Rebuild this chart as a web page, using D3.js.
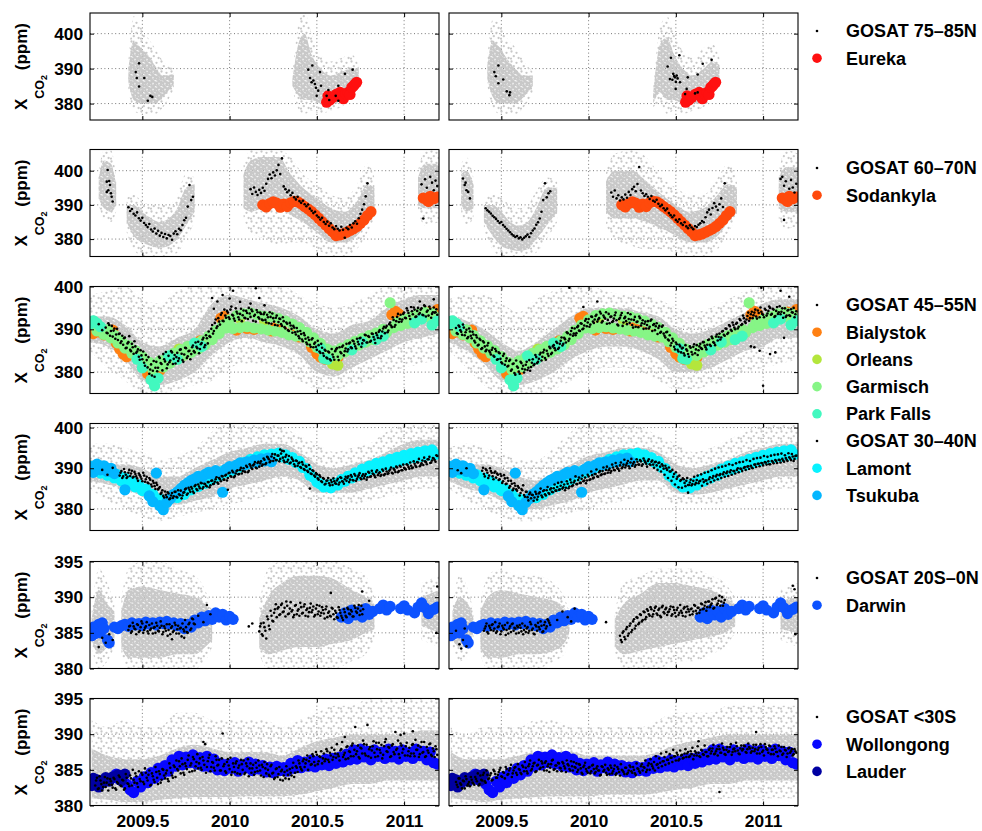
<!DOCTYPE html>
<html>
<head>
<meta charset="utf-8">
<script src="https://cdn.jsdelivr.net/npm/d3@7"></script>
<style>
  body { margin: 0; background: #fff; }
  svg text { font-family: "Liberation Sans", Arial, Helvetica, sans-serif; font-weight: bold; fill: #000; }
</style>
</head>
<body>
<svg id="chart" width="982" height="831"></svg>
<script>
// ---------------------------------------------------------------------------
// Axis values
const xDomain = [2009.2, 2011.2];
const xTicks = [2009.5, 2010, 2010.5, 2011];
const xTickLabels = ["2009.5", "2010", "2010.5", "2011"];
const yTicksNorth = [380, 390, 400];
const yTicksSouth = [380, 385, 390, 395];
const yDomains = [[375.3, 405.9], [374.9, 406.2], [375, 400], [374.7, 401], [380, 395], [380, 395]];

const GOSAT_STEP = 0.01;   // spacing of the GOSAT daily-mean runs (yr)
const SITE_STEP = 0.02;    // spacing of the regular TCCON runs (yr)

// ---------------------------------------------------------------------------
// Individual GOSAT soundings: clusters of [t, outerLo, outerHi, coreLo, coreHi]
const gray7585L = [
  [[2009.42,384,392,386,390],[2009.45,378,405,381,398],[2009.49,377,402,380,396],[2009.53,377,399,380,394],[2009.57,377,396,380,391],[2009.62,379,392,382,388],[2009.68,384,390,385.5,388.5]],
  [[2010.36,384,388,385,387],[2010.40,378,404,382,398],[2010.43,377,406,381,400],[2010.47,378,400,381,394],[2010.52,377,394,380,390],[2010.58,378,392,380,388],[2010.64,379,393,381,389],[2010.70,382,394,384,390],[2010.74,386,391,387,390]]
];
const gray7585R = [
  [[2009.42,385,393,387,391],[2009.45,379,404,382,398],[2009.49,377,403,380,396],[2009.53,377,399,380,393],[2009.58,377,396,380,390],[2009.63,379,392,382,388],[2009.68,383,389,385,388]],
  [[2010.37,379,384,380,383],[2010.41,380,402,383,397],[2010.45,377,405,381,399],[2010.49,378,400,381,394],[2010.54,377,395,380,390],[2010.60,378,393,380,388],[2010.66,379,396,381,390],[2010.71,382,397,384,392],[2010.75,386,393,387,391]]
];
const gray6070L = [
  [[2009.25,390,400,392,398],[2009.28,386,406,389,403],[2009.32,385,406,388,402],[2009.35,388,398,390,396]],
  [[2009.41,382,392,385,390],[2009.45,377,393,381,390],[2009.50,375,391,379,388],[2009.55,375,390,378,386],[2009.60,375,390,377.5,385],[2009.65,375,390,378,386],[2009.70,376,393,380,389],[2009.75,380,399,384,395],[2009.80,385,398,388,396]],
  [[2010.08,386,402,389,399],[2010.12,382,406,388,403],[2010.20,380,406,389,404],[2010.28,378,406,389,404],[2010.35,379,404,387,399],[2010.42,379,399,385,395],[2010.50,377,396,382,392],[2010.58,375,393,379,389],[2010.66,375,392,379,388],[2010.73,377,396,381,391],[2010.79,382,402,385,396],[2010.83,386,398,388,395]],
  [[2011.08,388,400,390,398],[2011.12,384,406,389,402],[2011.20,385,406,389,402]]
];
const gray6070R = [
  [[2009.27,388,402,390,399],[2009.30,384,404,388,400],[2009.34,386,398,389,396]],
  [[2009.40,382,392,385,390],[2009.45,377,393,381,390],[2009.50,375,392,378,388],[2009.55,375,390,377,385],[2009.60,375,389,376.5,384],[2009.65,375,390,377,385],[2009.70,376,394,380,389],[2009.76,380,398,384,395],[2009.82,385,397,388,395]],
  [[2010.10,384,400,388,397],[2010.15,380,405,386,400],[2010.25,378,406,386,400],[2010.33,377,404,385,397],[2010.42,377,398,383,393],[2010.50,376,395,381,390],[2010.58,375,393,379,388],[2010.66,375,393,379,389],[2010.74,377,398,381,393],[2010.80,382,402,385,396],[2010.85,386,398,388,395]],
  [[2011.09,386,400,389,398],[2011.13,383,406,388,401],[2011.20,384,405,388,401]]
];
const gray4555L = [[
  [2009.2,385,398,387,393],[2009.3,381,399,386,393],[2009.4,378,400,383,391],[2009.5,375,397,378,387],[2009.6,375,396,377,386],[2009.7,376,399,378,388],[2009.8,377,400,380,390],[2009.9,378,400,384,396],[2010.0,381,400,387,398],[2010.1,382,400,388,397],[2010.2,382,400,387,396],[2010.3,380,400,386,395],[2010.4,378,398,384,393],[2010.5,376,396,380,390],[2010.6,376,395,379,389],[2010.7,377,396,381,391],[2010.8,378,398,383,392],[2010.9,380,400,385,395],[2011.0,381,400,387,397],[2011.1,382,400,388,398],[2011.2,383,400,389,398]
]];
const gray4555R = [[
  [2009.2,385,397,387,393],[2009.3,381,398,385,392],[2009.4,377,398,382,390],[2009.5,375,396,378,387],[2009.6,375,394,377,385],[2009.7,375,397,378,387],[2009.8,376,399,380,390],[2009.9,378,400,383,393],[2010.0,380,400,385,395],[2010.1,381,399,386,395],[2010.2,381,398,386,395],[2010.3,380,398,385,394],[2010.4,378,397,383,393],[2010.5,376,395,380,390],[2010.6,376,394,380,389],[2010.7,377,395,381,390],[2010.8,378,397,383,392],[2010.9,380,399,385,394],[2011.0,381,400,386,396],[2011.1,382,400,388,397],[2011.2,383,400,388,397]
]];
const gray3040L = [[
  [2009.2,385,396,387,392],[2009.3,382,396,386,391],[2009.4,380,395,385,391],[2009.5,378,394,383,390],[2009.6,377,392,381,388],[2009.7,378,393,381,388],[2009.8,379,395,382,390],[2009.9,380,399,383,392],[2010.0,381,401,385,394],[2010.1,382,401,386,395],[2010.2,383,401,387,396],[2010.3,384,400,388,396],[2010.4,383,398,387,394],[2010.5,381,396,384,391],[2010.6,381,394,384,390],[2010.7,381,395,384,391],[2010.8,382,396,385,392],[2010.9,383,399,386,394],[2011.0,384,401,387,396],[2011.1,385,401,388,397],[2011.2,385,401,388,397]
]];
const gray3040R = [[
  [2009.2,385,395,387,391],[2009.3,382,396,385,391],[2009.4,380,395,384,391],[2009.5,378,394,382,390],[2009.6,377,392,380,388],[2009.7,377,392,380,387],[2009.8,378,395,381,389],[2009.9,379,399,382,391],[2010.0,380,401,384,393],[2010.1,381,401,385,394],[2010.2,382,401,386,395],[2010.3,383,400,387,395],[2010.4,383,398,387,394],[2010.5,381,396,384,391],[2010.6,381,394,383.5,390],[2010.7,381,395,384,391],[2010.8,382,397,385,392],[2010.9,383,399,386,394],[2011.0,384,401,387,395],[2011.1,385,401,388,396],[2011.2,385,401,388,396]
]];
const gray200L = [
  [[2009.21,383,388,384,387],[2009.25,380,394,382,391],[2009.30,381,392,383,389],[2009.34,383,389,384,388]],
  [[2009.38,382,390,383,388],[2009.42,380,394,381.5,391],[2009.50,380,395,381.5,391.5],[2009.60,380,395,381.5,391],[2009.70,380,394,382,390.5],[2009.80,380,393,382,390],[2009.86,381,391,383,389],[2009.90,383,388,384,387]],
  [[2010.17,382,389,383,387],[2010.22,380,394,382,390],[2010.30,380,395,382.5,392],[2010.40,380,395,383,393],[2010.50,380,395,383,393],[2010.60,380,395,383.5,392.5],[2010.70,381,394,384,391],[2010.78,382,393,385,390],[2010.83,384,390,385.5,389]],
  [[2011.10,384,392,386,390],[2011.20,383,393,385,391]]
];
const gray200R = [
  [[2009.22,383,389,384,388],[2009.26,381,393,383,390],[2009.31,382,391,383.5,389],[2009.34,384,388,385,387]],
  [[2009.38,382,389,383,388],[2009.42,380,393,381.5,390],[2009.50,380,394,381.5,391],[2009.60,380,393,382,390.5],[2009.70,380,393,382,390],[2009.80,381,392,382.5,389.5],[2009.86,382,390,383.5,388.5],[2009.89,384,388,385,387]],
  [[2010.15,382,388,383,387],[2010.20,380,392,382,389],[2010.30,380,393,382.5,390.5],[2010.40,380,394,383,392],[2010.50,381,394,383.5,392],[2010.60,381,394,384,391.5],[2010.70,382,393,384.5,391],[2010.78,383,392,385,390],[2010.84,385,390,386,389]],
  [[2011.10,384,391,385.5,389.5],[2011.20,383,392,385,390]]
];
const gray30SL = [[
  [2009.21,380,392,381,388],[2009.3,380,391,380.8,387],[2009.4,380,392,380.5,386.5],[2009.5,380,391,380.5,386.5],[2009.6,380,391,380.8,387],[2009.7,380,393,381,388],[2009.8,380,393,381.2,388.5],[2009.9,380,392,381.2,388],[2010.0,380,392,381.2,387.5],[2010.1,380,392,381.3,387.5],[2010.2,380,392,381.3,387.5],[2010.3,380,391,381.3,387],[2010.4,380,392,381.5,388],[2010.5,380,393,382,389],[2010.6,380,394,382.5,389.5],[2010.7,380.5,394,383,390],[2010.8,381,395,383,390],[2010.9,381,395,383.5,390],[2011.0,381,395,383.5,390],[2011.1,381,395,383.5,390.5],[2011.2,381,395,383.5,390.5]
]];
const gray30SR = [[
  [2009.21,380,391,381,387.5],[2009.3,380,390,380.8,386.5],[2009.4,380,391,380.5,386.5],[2009.5,380,391,380.8,386.5],[2009.6,380,391,381,387],[2009.7,380,392,381.2,387.5],[2009.8,380,392,381.3,387.5],[2009.9,380,391,381.3,387.5],[2010.0,380,391,381.3,387],[2010.1,380,391,381.5,387],[2010.2,380,391,381.5,387],[2010.3,380,391,381.5,387],[2010.4,380,392,381.8,387.5],[2010.5,380,393,382.2,388.5],[2010.6,380,393,382.5,389],[2010.7,380.5,393,383,389.5],[2010.8,381,394,383,390],[2010.9,381,394,383.5,390],[2011.0,381,394,383.5,390],[2011.1,381,394,383.5,390],[2011.2,381,394,383.5,390]
]];

// ---------------------------------------------------------------------------
// GOSAT daily means: scattered points [t, ppm] and regular runs [t0, values]
const gosat7585LPts = [[2009.462,389.0],[2009.468,387.3],[2009.481,391.5],[2009.481,384.9],[2009.511,387.3],[2009.531,380.8],[2009.546,382.2],[2009.557,381.9],
  [2010.451,389.7],[2010.474,390.9],[2010.461,387.3],[2010.480,386.6],[2010.470,386.1],[2010.489,385.6],[2010.495,384.5],[2010.518,389.0],[2010.524,385.1],[2010.499,382.2],[2010.508,383.7],[2010.566,383.9],[2010.556,382.2],[2010.571,381.0],[2010.608,382.2],[2010.623,380.8],[2010.623,385.1],[2010.661,388.5],[2010.705,389.7]];
const gosat7585RPts = [[2009.483,390.9],[2009.460,389.0],[2009.468,387.8],[2009.511,386.9],[2009.483,385.8],[2009.531,383.5],[2009.550,383.2],[2009.546,382.4],
  [2010.472,393.1],[2010.520,393.8],[2010.453,390.6],[2010.485,388.5],[2010.495,387.5],[2010.505,388.0],[2010.466,387.0],[2010.524,386.1],[2010.499,384.2],[2010.562,384.2],[2010.568,387.5],[2010.625,388.3],[2010.654,391.4],[2010.705,392.5],[2010.610,382.9],[2010.553,382.7],[2010.625,383.2],[2010.480,386.8],[2010.490,387.9],[2010.500,386.2],[2010.510,387.2]];

const gosat6070LPts = [[2009.296,393.8],[2009.301,400.2],[2009.296,396.8],[2009.305,394.3],[2009.315,395.8],[2009.324,392.4],[2009.330,391.0],[2009.310,397.0],[2009.320,393.4],
  [2011.10,396.0],[2011.12,397.5],[2011.13,395.0],[2011.15,398.2],[2011.16,396.5],[2011.17,394.3],[2011.18,397.1],[2011.19,395.5],[2011.11,386.0]];
const gosat6070LRuns = [
  [2009.42, [389.3,388.2,388.8,387.4,386.9,387.8,386.1,385.4,386.2,384.7,
             384.1,383.5,384.4,382.8,382.2,383.1,381.6,382.4,381.0,381.8,
             380.6,381.5,380.2,381.2,380.9,379.8,381.6,382.3,381.4,383.0,
             382.6,384.1,385.5,386.2,389.5,395.8,391.4,392.4]],
  [2010.12, [394.6,393.2,395.1,393.8,392.9,394.4,393.5,395.0,394.1,396.2,
             397.6,398.9,397.8,399.5,398.6,400.1,401.7,399.0,403.6,395.4,
             394.6,393.7,394.2,392.8,393.5,392.2,391.6,392.4,391.1,390.6,
             391.2,390.2,389.6,390.1,388.9,388.3,387.6,388.0,386.9,386.4,
             385.7,386.2,385.0,384.4,385.1,383.9,384.6,383.4,382.9,383.8,
             383.0,382.5,383.6,382.7,380.4,383.3,382.9,384.1,383.4,384.6,
             385.2,384.5,386.1,387.4,388.6,390.2,392.5,396.3]]
];
const gosat6070RPts = [[2009.28,397.7],[2009.29,395.8],[2009.30,394.3],[2009.31,393.8],[2009.32,391.9],[2009.295,396.5],
  [2011.10,397.6],[2011.11,398.2],[2011.12,395.6],[2011.13,396.9],[2011.15,394.7],[2011.16,397.3],[2011.17,395.1],[2011.18,393.6],[2011.19,396.2],[2011.12,385.6]];
const gosat6070RRuns = [
  [2009.41, [389.0,388.4,388.0,387.5,386.8,386.4,385.9,385.3,384.7,385.0,
             384.1,383.6,383.0,382.5,382.0,381.4,381.0,380.6,380.9,380.2,
             380.5,379.9,380.4,380.8,381.3,380.6,381.7,382.5,383.1,384.2,
             384.9,386.0,388.0,391.4,396.3,392.2,393.4,394.0]],
  [2010.13, [393.6,392.4,394.2,391.9,392.8,391.3,392.2,391.6,393.0,392.1,
             393.8,392.9,394.6,395.3,394.0,396.1,401.1,394.2,393.4,392.6,
             393.1,392.4,391.7,392.6,391.2,390.9,391.5,390.3,389.6,390.0,
             389.0,388.4,388.9,387.6,387.0,386.4,386.9,385.6,385.1,385.8,
             384.6,384.1,384.9,383.7,383.2,384.0,383.4,382.9,383.8,383.5,
             384.2,384.6,385.3,384.9,386.4,387.8,388.6,387.2,389.1,390.5,
             389.5,388.5,390.2,391.9,389.4,396.3]]
];

const gosat4555LPts = [[2009.25,391.2],[2009.27,389.8],[2009.90,397.3],[2009.93,396.5],[2009.96,398.0],[2010.00,397.2],[2010.02,399.0],[2010.06,396.4],[2010.12,396.0],[2010.15,399.6],[2010.17,397.3],[2009.91,394.8],[2010.20,395.6],[2011.09,396.5],[2011.17,397.0]];
const gosat4555LRuns = [
  [2009.29, [390.4,389.1,391.0,389.6,388.3,390.2,388.8,387.5,389.0,387.2,
             386.4,388.1,385.7,387.0,385.2,386.6,384.3,386.0,384.8,383.6,
             385.1,383.0,382.2,384.0,381.1,379.6,381.8,380.3,378.9,382.4,
             381.0,383.3,381.9,384.2,382.5,380.9,383.8,382.7,384.6,383.1,
             382.0,384.5,383.2,385.3,382.8,384.1,385.6,383.7,385.0,384.2,
             386.2,384.6,385.9,387.1,385.4,386.8,388.0,386.3,387.9,389.5,
             388.2,391.0,389.6,392.3,390.7,391.8,393.4,392.0,394.6,392.7,
             393.9,392.4,395.3,393.2,392.0,394.1,392.8,393.6,391.9,394.4,
             392.6,393.8,395.0,392.9,394.2,393.1,391.8,394.0,392.5,393.6,
             392.1,393.9,391.6,392.8,394.0,391.3,392.6,391.0,393.2,391.7,
             392.4,390.8,391.9,390.2,391.3,389.6,390.9,389.2,390.4,388.8,
             389.5,387.9,388.9,387.2,388.6,386.9,388.1,386.4,387.6,385.8,
             386.9,385.2,386.3,384.5,385.7,383.8,385.0,383.2,384.6,382.7,
             384.1,382.9,385.3,383.6,385.8,384.4,386.2,384.9,386.6,385.3,
             386.9,385.6,387.2,386.0,387.8,386.5,388.0,386.7,387.4,388.6,
             386.9,388.2,387.3,388.9,387.6,389.1,388.0,389.8,388.4,390.2,
             389.1,390.8,389.7,391.6,390.5,392.2,391.0,392.9,391.7,393.4,
             392.3,393.9,392.6,394.4,393.1,395.2,393.5,394.6,393.0,395.0,
             393.8,394.9,393.3,395.4,394.1,393.2,394.8,393.6,395.1,394.0,393.4]],
  [2009.295, [389.2,391.4,388.5,390.8,389.7,387.8,390.1,388.9,386.8,388.5,
             387.9,385.6,386.7,388.4,384.9,385.8,387.2,384.5,385.3,382.9,
             383.9,384.8,381.5,382.8,383.5,380.6,379.2,382.6,381.0,380.2,
             383.6,382.1,380.4,383.0,384.7,381.8,382.3,384.9,381.9,384.0,
             383.5,382.6,385.2,384.3,382.4,385.7,383.3,384.9,383.0,385.8,
             384.9,386.9,385.6,384.4,386.5,387.6,385.8,388.6,386.7,388.4,
             390.1,389.0,391.5,390.3,392.6,391.1,393.8,391.9,393.2,394.3,
             392.8,394.6,393.4,392.5,394.9,393.7,392.3,394.8,393.3,392.7,
             394.3,392.4,393.7,394.6,392.0,393.4,394.5,392.8,393.9,392.3,
             393.5,392.2,393.4,391.4,392.9,393.7,391.8,392.7,390.9,392.5,
             391.2,392.8,390.5,391.6,389.8,391.5,390.1,390.8,389.3,390.3,
             388.4,389.6,387.6,389.1,387.8,386.5,387.5,385.9,387.9,386.6,
             385.9,387.3,384.8,386.6,384.4,385.2,383.4,384.8,383.0,385.4,
             383.5,384.9,385.6,382.8,384.7,385.9,383.9,385.5,384.8,386.7,
             385.8,387.4,386.6,385.5,387.1,387.9,385.9,387.5,388.7,386.9,
             388.4,387.1,389.0,388.2,386.8,388.6,389.4,387.9,389.5,390.6,
             390.4,389.3,391.2,390.9,392.8,390.6,391.9,393.6,392.4,391.8,
             393.6,392.7,394.9,393.8,392.4,394.2,395.1,392.9,394.3,393.5,
             394.6,393.4,395.6,393.0,394.4,395.3,392.7,394.0,393.9,394.7]]
];
const gosat4555RPts = [[2010.93,386.0],[2010.95,385.8],[2010.98,385.0],[2011.04,384.2],[2011.07,384.6],[2011.00,376.8],[2011.12,388.0],[2010.05,396.5],[2009.97,395.2],[2009.89,399.7],[2010.99,399.7],[2011.10,399.0],[2011.15,397.6]];
const gosat4555RRuns = [
  [2009.24, [390.3,388.9,390.6,389.4,391.1,388.6,389.9,388.2,389.5,387.9,
             388.8,386.9,388.1,386.4,387.5,385.6,386.9,384.9,386.2,385.0,
             384.1,385.7,383.6,384.9,383.0,384.4,382.3,383.8,381.7,383.2,
             381.5,382.9,380.6,382.0,379.4,381.3,380.1,382.4,380.8,379.9,
             381.7,380.5,382.8,381.2,383.0,381.9,383.5,382.4,384.1,382.7,
             384.6,383.3,385.0,383.8,385.6,384.5,386.3,385.1,386.8,385.7,
             387.3,386.2,388.0,386.9,389.1,387.8,389.6,388.5,390.2,389.1,
             390.8,389.6,391.3,390.2,392.0,390.7,392.4,391.1,392.9,391.5,
             393.1,391.8,392.6,393.7,391.9,392.8,394.0,392.2,391.4,393.0,
             391.9,393.3,392.1,390.9,392.7,393.8,391.6,392.9,391.2,392.4,
             393.5,391.0,392.2,390.6,391.8,393.0,390.9,392.1,391.3,390.2,
             391.9,390.6,392.3,391.0,389.8,391.4,390.3,389.2,390.6,389.0,
             388.1,389.4,387.4,386.2,387.8,385.9,386.9,385.2,386.4,384.6,
             385.7,383.9,385.3,384.2,386.0,384.7,385.9,384.4,386.3,385.1,
             386.6,385.4,387.0,385.8,386.4,387.6,386.1,387.9,386.8,388.3,
             387.4,389.0,388.1,389.6,388.5,390.1,389.2,390.7,389.6,391.0,
             390.0,391.5,390.6,392.1,391.2,392.6,391.5,393.1,392.0,393.5,
             392.6,393.9,393.0,394.4,392.8,394.1,393.4,394.8,393.2,394.3,
             395.0,393.6,394.6,393.1,395.2,394.0,393.5,394.9,393.8,392.9,
             394.4,393.3,394.7,393.9,392.8,394.2]],
  [2009.245, [389.1,390.9,389.8,388.7,390.4,389.3,387.9,390.2,388.5,389.4,
             387.3,388.6,386.2,387.8,385.4,387.2,386.0,385.2,386.8,384.6,
             385.2,383.8,385.4,382.9,384.6,383.1,382.0,384.3,382.6,381.3,
             382.6,380.3,381.9,379.8,382.7,381.0,379.6,382.1,381.5,380.6,
             382.4,381.0,380.3,382.2,381.6,384.0,382.1,383.1,384.5,383.6,
             385.2,382.9,384.3,385.9,384.2,386.0,385.6,387.1,385.4,386.6,
             388.1,386.6,387.7,389.3,387.3,388.8,390.3,389.0,388.6,390.5,
             389.7,391.4,390.0,390.9,392.4,391.6,390.6,393.0,391.8,392.3,
             393.4,392.3,394.1,391.6,393.2,392.5,391.3,393.6,392.9,391.7,
             392.5,393.9,391.1,392.4,393.3,390.8,392.6,391.9,393.8,391.5,
             392.3,390.4,392.9,391.7,390.5,392.6,391.4,390.1,391.8,391.0,
             390.2,392.0,389.6,391.2,390.7,388.9,390.8,389.4,390.9,388.5,
             389.3,387.6,388.6,386.8,387.3,385.3,386.5,384.8,386.0,385.5,
             384.4,386.3,385.0,383.6,385.7,384.1,386.5,385.3,384.0,386.0,
             385.6,387.0,386.2,385.3,387.5,386.4,388.3,387.0,386.3,388.8,
             388.2,387.6,389.5,388.7,390.2,388.9,391.0,389.9,391.6,390.4,
             391.3,390.2,392.4,391.0,393.2,391.8,392.3,393.9,392.6,394.1,
             393.3,394.6,392.5,393.8,395.1,393.6,392.8,394.5,393.7,395.3,
             393.4,394.8,392.9,394.3,393.6,395.4,394.1,392.7,394.9,393.2,
             394.5,393.1,394.0,395.0,393.5]]
];

const gosat3040LPts = [[2009.27,389.6],[2009.30,388.4],[2009.33,390.1],[2010.29,394.6],[2010.31,394.2],[2010.46,385.0],[2009.99,384.7]];
const gosat3040LRuns = [
  [2009.37, [388.2,389.3,388.0,389.0,387.6,388.9,388.1,389.4,387.9,388.6,
             387.5,388.7,387.9,386.8,388.2,387.3,386.5,387.6,386.0,386.9,
             385.6,386.4,384.8,385.4,384.0,383.2,384.3,382.9,383.8,382.6,
             383.9,383.1,384.2,382.8,383.6,384.5,383.3,384.1,385.0,383.8,
             384.7,385.4,384.3,385.6,384.9,386.0,385.1,386.3,385.4,386.1,
             385.5,386.6,385.8,387.0,386.2,387.3,386.5,387.6,386.8,388.0,
             387.2,388.4,387.6,388.9,387.9,389.0,388.1,389.3,388.5,389.6,
             388.7,390.0,389.1,390.3,389.4,390.6,389.8,391.0,390.2,391.3,
             390.4,391.7,390.9,392.1,391.3,392.6,391.5,392.9,391.8,393.4,
             392.0,393.1,392.3,394.3,391.9,392.8,391.6,393.0,391.4,392.2,
             391.0,391.9,390.6,391.4,390.1,390.9,389.6,390.4,389.1,389.8,
             388.6,389.3,387.9,388.5,387.2,387.9,386.6,387.4,386.2,387.0,
             386.3,387.1,385.9,386.8,386.2,387.4,386.5,387.6,386.7,387.3,
             386.9,388.0,387.2,387.9,387.0,388.2,387.4,388.3,387.6,388.1,
             387.5,388.6,387.8,388.9,388.0,388.7,388.2,389.1,388.3,389.0,
             388.4,389.4,388.6,389.2,388.8,389.7,388.9,389.9,389.1,390.2,
             389.3,390.4,389.5,390.1,389.7,390.8,389.9,390.6,390.2,391.1,
             390.3,391.4,390.5,391.2,390.8,391.7,391.0,392.2,391.3,391.9,
             392.4,391.6,393.0]],
  [2009.375, [388.9,387.6,389.8,388.4,387.9,389.6,388.7,387.7,389.1,388.0,
             386.9,388.3,387.4,388.9,386.7,387.9,386.3,387.2,385.5,386.4,
             384.9,385.9,385.1,383.7,384.6,382.8,383.5,384.1,382.4,383.3,
             382.7,384.2,383.0,384.6,383.4,382.6,384.0,384.8,383.5,385.2,
             384.2,385.0,383.9,385.9,384.6,385.5,386.4,385.0,386.2,385.7,
             386.6,385.3,386.9,386.1,386.7,387.8,386.2,387.3,388.1,387.2,
             388.2,387.0,388.8,388.1,389.4,387.8,388.7,389.5,388.6,390.1,
             389.3,389.2,390.6,389.0,391.0,390.1,390.7,391.5,390.0,391.6,
             391.2,390.6,392.4,391.0,392.8,392.2,391.8,393.5,392.5,392.0,
             393.1,391.7,393.6,392.6,391.5,393.3,392.1,391.2,392.6,391.8,
             390.5,391.8,391.2,390.3,391.5,389.8,390.6,389.4,390.8,388.7,
             389.5,388.2,388.8,387.5,388.3,386.8,387.6,386.0,386.9,387.6,
             385.8,386.6,387.5,386.3,387.0,386.0,387.8,386.8,386.2,387.9,
             387.6,386.6,388.3,387.1,388.6,386.9,387.9,388.8,387.3,388.5,
             388.1,387.2,389.1,387.9,389.4,388.5,387.8,389.5,388.7,388.1,
             389.7,388.3,389.9,388.6,389.4,390.2,388.7,389.6,390.4,389.0,
             390.6,389.5,390.9,389.9,391.0,390.3,391.4,390.0,391.7,390.6,
             391.5,392.3,390.8,391.9,392.6,391.5,392.2,392.8,391.4,392.5,
             392.0,393.2]]
];
const gosat3040RPts = [[2009.25,389.5],[2009.27,388.8],[2009.30,390.0],[2010.57,384.0]];
const gosat3040RRuns = [
  [2009.39, [389.4,388.6,389.8,388.9,388.2,389.3,388.0,388.9,387.7,388.4,
             387.3,388.1,386.8,387.5,386.2,386.9,385.6,386.2,385.0,385.7,
             384.5,385.2,383.9,384.6,383.4,384.2,382.9,383.6,382.6,383.4,
             382.8,383.7,383.0,384.1,383.3,384.4,383.6,384.6,383.9,384.8,
             384.2,385.1,384.5,385.4,384.7,385.7,385.0,386.0,385.2,386.2,
             385.5,386.5,385.8,386.9,386.1,387.1,386.4,387.4,386.8,387.7,
             387.0,388.0,387.3,388.3,387.7,388.6,388.0,389.0,388.3,389.3,
             388.6,389.6,388.9,389.9,389.3,390.2,389.5,390.5,389.8,390.7,
             390.0,390.9,390.2,391.2,390.5,391.4,390.6,391.5,390.8,391.6,
             390.9,391.7,391.0,391.9,391.1,391.8,391.0,391.6,390.9,391.5,
             390.7,391.3,390.4,391.0,389.9,390.6,389.6,390.2,389.2,389.6,
             388.6,389.0,387.9,388.2,387.1,387.5,386.4,386.9,385.9,386.5,
             385.8,386.9,386.0,387.1,386.3,386.9,385.7,386.6,387.0,386.2,
             387.3,386.6,387.6,387.0,388.0,387.3,388.3,387.6,388.5,387.9,
             388.8,388.1,389.0,388.4,389.3,388.7,389.6,389.0,389.9,389.3,
             390.1,389.6,390.4,389.8,390.6,390.0,390.9,390.3,391.1,390.5,
             391.3,390.7,391.5,390.9,391.7,391.0,391.8,391.2,392.0,391.3,
             392.1,391.4,392.3,391.6,392.5,391.8,392.7,392.0,392.9,392.3,393.1]],
  [2009.395, [390.1,388.0,389.5,387.6,390.0,388.9,387.3,389.2,388.7,387.1,
             388.6,386.4,388.3,386.1,387.6,385.2,386.9,384.6,386.3,384.8,
             385.6,383.3,384.9,385.8,383.0,384.2,382.1,384.0,383.5,382.0,
             384.2,382.3,383.8,385.0,382.9,384.6,383.3,385.4,383.7,385.1,
             384.1,386.0,384.5,386.4,384.8,386.6,385.3,384.6,386.8,385.1,
             387.2,385.6,386.5,388.0,386.1,387.7,386.4,388.2,387.0,386.3,
             388.4,387.1,389.2,387.5,388.6,389.7,387.9,389.3,388.5,390.2,
             388.7,390.4,389.5,388.9,390.9,389.6,391.3,390.0,389.4,391.4,
             390.3,392.1,390.7,391.8,390.0,392.3,391.1,390.4,392.2,390.9,
             392.0,390.6,392.4,391.5,390.4,392.2,390.8,391.9,390.1,391.6,
             389.6,391.4,389.2,390.6,388.4,390.0,387.6,389.2,386.9,387.9,
             386.0,387.4,385.3,386.9,385.2,387.3,385.6,387.6,385.9,387.2,
             386.1,387.9,386.4,388.2,386.8,388.5,387.3,388.9,387.0,389.1,
             387.8,389.5,388.1,389.9,388.4,390.2,388.6,390.4,389.0,390.6,
             389.2,391.0,389.5,390.8,389.3,391.2,390.0,391.5,389.8,391.6,
             390.3,392.0,390.5,391.8,390.2,392.3,390.9,392.5,391.1,392.6,
             391.2,393.0,391.4,392.8,391.0,393.1,391.6,393.3,391.8,393.4,
             392.0,393.6,391.9,393.2,392.1,393.7,392.4,393.5,391.8,393.0]]
];

const gosat200LPts = [[2009.25,383.0],[2009.27,384.3],[2009.29,383.6],[2009.31,384.8],[2009.33,384.0],[2009.82,387.4],[2009.85,386.5],[2009.87,388.9],[2009.89,387.6],[2009.67,384.1],[2009.74,384.3],[2010.11,385.9],[2010.13,386.3],[2011.19,391.5],[2011.185,385.0],[2010.80,389.5],[2010.76,390.8],[2010.58,390.6]];
const gosat200LRuns = [
  [2009.42, [385.4,386.0,385.2,385.9,385.5,386.2,385.1,385.8,386.3,385.4,
             385.9,385.2,386.1,385.6,384.9,385.8,386.4,385.3,385.7,386.0,
             385.1,385.6,386.2,385.4,384.8,385.9,385.3,386.1,385.5,384.9,
             385.7,386.3,385.2,385.8,385.0,386.4,385.6,386.9,386.2]],
  [2009.425, [385.9,385.0,386.4,385.6,384.8,386.1,385.3,386.6,385.0,385.7,
             386.5,384.9,385.4,386.3,385.7,385.0,386.0,385.2,386.6,384.8,
             385.9,385.3,384.6,386.2,385.7,385.1,386.4,384.9,386.0,385.6,
             384.5,385.5,386.8,385.1,386.2,385.4,387.0,386.3]],
  [2010.17, [385.2,386.3,384.6,385.8,384.2,386.9,385.5,387.4,386.6,388.3,
             387.2,388.6,387.6,389.1,388.0,387.3,388.8,387.7,389.3,388.2,
             387.5,388.9,388.1,387.4,388.6,387.8,389.0,388.2,387.3,388.5,
             387.9,388.7,387.5,388.9,388.0,387.4,388.6,387.7,388.3,387.2,
             388.0,387.3,388.4,386.9,387.8,387.1,388.2,387.4,386.8,387.9,
             387.2,388.3,387.6,388.0,387.3,388.5,387.8,388.9,388.1,387.6]],
  [2010.175, [385.9,384.8,386.4,385.3,387.3,386.0,388.1,386.7,387.8,389.0,
             388.4,387.5,388.9,387.9,388.5,389.4,387.6,388.4,388.0,387.2,
             388.8,387.6,388.3,389.2,387.7,388.7,387.4,388.4,387.9,389.1,
             388.2,387.3,388.4,387.6,388.8,387.8,388.2,387.0,388.7,387.8,
             387.4,388.5,387.6,388.1,387.2,388.6,387.8,387.1,388.3,387.4,
             388.5,387.7,388.2,387.3,388.8,388.0,388.4,387.5,388.8,388.3]]
];
const gosat200RPts = [[2009.24,385.3],[2009.26,383.4],[2009.27,382.8],[2009.28,384.0],[2009.30,383.1],[2009.29,385.6],[2009.82,386.8],[2009.85,388.0],[2009.88,387.2],[2009.90,386.6],[2009.92,388.4],[2010.10,386.5],[2011.17,391.6],[2011.18,391.1],[2011.185,384.8]];
const gosat200RRuns = [
  [2009.40, [385.3,385.9,385.1,386.0,385.4,386.2,385.6,385.0,385.8,386.3,
             385.2,385.7,386.1,385.4,384.9,385.9,386.2,385.3,385.6,386.0,
             385.0,385.7,386.3,385.4,385.1,385.8,385.3,386.2,385.6,384.8,
             385.9,386.4,385.5,386.0,385.2,386.5,385.9,386.7,386.1]],
  [2009.405, [385.6,386.3,384.9,385.7,386.1,385.3,386.5,385.2,385.9,384.8,
             386.0,385.5,384.7,386.4,385.6,385.1,386.3,385.7,384.9,385.8,
             386.1,385.2,384.8,386.0,385.6,385.0,386.5,385.4,384.9,386.1,
             385.3,385.8,386.6,385.1,386.1,385.6,386.9,386.4]],
  [2010.18, [384.6,383.7,385.2,384.1,385.8,384.9,386.3,385.4,386.9,386.0,
             387.1,386.4,387.5,386.8,387.9,387.2,388.1,387.4,388.3,387.6,
             388.5,387.7,388.2,387.4,388.6,387.9,388.3,387.5,388.0,388.7,
             387.6,388.2,387.3,388.5,387.8,388.1,387.4,388.6,387.9,388.3,
             387.5,388.4,388.0,388.8,387.7,388.5,388.2,389.0,388.4,389.3,
             388.6,389.4,388.9,389.7,388.5,389.9,389.1,390.2,389.4,388.8,389.6]],
  [2010.185, [384.0,385.0,384.4,385.5,384.6,386.0,385.1,386.6,385.6,387.2,
             386.2,387.6,386.6,388.0,386.9,388.3,387.6,388.6,387.3,388.1,
             388.7,387.5,388.4,387.2,388.8,387.7,388.5,387.9,388.3,387.4,
             388.6,387.8,388.2,387.5,388.9,387.8,388.4,387.3,388.7,388.0,
             388.3,387.6,388.9,388.1,388.5,387.8,389.1,388.3,388.8,388.1,
             389.4,388.6,389.1,388.4,389.8,388.9,389.5,388.8,390.0,389.2]]
];

const gosat30SLPts = [[2009.85,388.9],[2010.66,389.6],[2010.98,389.9],[2011.05,390.4]];
const gosat30SLRuns = [
  [2009.23, [382.8,383.9,382.4,383.5,382.1,383.2,382.6,383.8,382.9,383.4,
             382.5,383.7,382.2,383.1,384.0,382.7,383.5,382.4,383.9,383.0,
             384.2,382.8,383.6,384.5,383.1,384.8,383.4,384.3,383.0,384.6,
             383.5,384.9,382.9,384.1,383.3,384.7,383.0,384.4,383.6,385.0,
             383.8,384.9,383.4,385.3,384.2,385.6,384.0,385.1,386.2,384.5,
             385.8,384.3,385.5,386.4,384.7,385.9,386.8,384.9,386.1,385.2,
             386.6,385.0,386.3,388.6,385.4,386.7,384.8,386.1,385.3,386.9,
             385.6,386.4,384.9,390.1,385.8,384.6,386.5,385.1,384.3,385.9,
             384.7,386.2,385.3,384.4,385.8,386.3,384.6,385.5,384.1,385.9,
             385.2,384.3,386.0,384.8,385.6,384.2,385.4,386.1,384.5,385.0,
             384.1,385.7,384.6,383.9,385.2,384.4,383.6,385.0,384.2,383.8,
             384.9,383.7,384.6,385.3,384.0,385.5,384.7,385.9,385.1,386.2,
             385.4,386.4,385.0,386.7,385.8,386.9,385.6,387.1,386.2,386.8,
             385.9,387.3,386.5,387.6,386.1,387.0,386.4,387.8,386.7,387.2,
             386.3,387.9,386.8,387.4,388.2,386.6,387.5,388.4,386.9,391.0,
             387.6,386.8,388.1,387.3,388.6,387.0,391.3,387.9,386.7,388.3,
             387.4,388.8,386.9,387.8,388.5,387.1,388.9,387.6,388.2,386.8,
             388.4,387.5,390.3,388.0,387.2,388.7,387.4,390.1,388.3,387.0,
             388.1,387.3,388.6,386.9,387.8,388.4,387.2,388.9,387.5,386.8,
             388.2,387.4,388.7,386.9,387.6,388.3,387.1]],
  [2009.235, [383.5,382.3,384.1,383.0,382.6,384.0,383.2,382.1,383.7,382.9,
             383.9,382.4,383.3,384.2,382.8,383.6,382.2,384.4,383.1,382.7,
             383.8,385.0,383.2,384.1,382.6,383.7,384.6,383.3,385.2,383.9,
             384.3,382.8,384.5,383.6,385.4,383.9,384.8,383.2,385.1,384.2,
             384.5,383.7,385.9,384.6,383.9,385.4,386.3,384.9,385.5,386.6,
             384.6,385.9,385.1,387.0,385.6,384.8,386.5,385.5,387.2,385.9,
             385.3,386.8,385.7,384.6,386.2,387.1,385.4,386.0,384.9,386.4,
             385.7,384.9,386.6,385.5,384.8,386.1,385.6,386.7,384.7,385.4,
             385.9,384.5,385.6,386.4,385.0,384.4,385.9,386.5,385.2,384.6,
             385.7,384.7,385.3,386.3,384.9,385.7,384.0,385.2,385.8,384.3,
             385.5,384.5,383.7,385.1,384.0,385.4,384.8,383.5,384.7,385.5,
             384.3,385.1,384.2,386.0,384.6,385.3,386.3,385.4,384.9,386.5,
             385.9,387.0,386.2,385.7,387.2,386.1,387.5,385.8,386.9,387.6,
             386.6,386.2,387.9,386.4,387.4,388.1,386.8,387.3,388.6,386.9,
             387.7,388.9,387.1,386.5,388.3,387.6,386.9,388.7,387.8,387.2,
             388.4,386.6,388.0,389.1,387.3,388.5,386.9,388.2,387.7,389.0,
             386.8,387.9,388.8,387.4,386.6,388.3,389.3,387.5,388.1,386.9,
             388.6,387.2,387.8,389.1,386.7,388.4,387.9,387.0,388.8,387.6,
             386.9,388.5,387.3,389.2,387.8,386.8,388.2,387.4,388.9,386.9,
             387.7,388.6,387.1,388.0,386.8,387.9]]
];
const gosat30SRPts = [[2010.75,381.9],[2010.96,390.3],[2010.63,389.0]];
const gosat30SRRuns = [
  [2009.24, [383.3,382.6,383.8,382.9,383.5,382.4,383.7,383.0,382.7,383.6,
             383.1,384.0,383.4,382.8,384.2,383.5,384.6,383.2,384.3,383.8,
             384.5,383.6,384.8,383.9,384.3,385.0,384.1,384.7,383.8,385.1,
             384.4,385.2,384.0,384.9,385.4,384.3,385.1,384.6,385.6,384.8,
             385.3,384.5,385.8,384.9,385.5,386.0,384.8,385.7,385.1,386.2,
             385.4,386.0,384.9,385.8,385.3,386.3,385.0,385.6,384.8,385.9,
             385.2,386.1,385.5,384.7,385.8,385.1,386.2,384.9,385.4,385.9,
             385.0,385.7,384.6,385.4,386.0,384.8,385.3,384.5,385.6,385.1,
             384.7,385.5,384.9,384.3,385.4,385.0,384.6,385.2,384.4,385.3,
             384.8,385.6,384.5,385.1,384.2,385.0,384.7,385.3,384.4,384.9,
             385.4,384.6,385.0,384.3,385.2,384.8,385.5,384.9,385.3,384.7,
             385.6,385.0,385.8,385.2,384.9,385.7,385.3,386.0,385.5,386.2,
             385.7,386.4,385.9,386.7,386.1,386.9,386.3,387.1,386.5,387.0,
             386.6,387.3,386.8,387.5,386.9,387.2,386.5,387.6,387.0,387.4,
             386.8,387.7,387.1,387.5,386.9,387.8,387.3,388.0,387.2,387.6,
             387.0,387.9,387.4,388.1,387.2,387.8,387.5,388.2,387.1,387.9,
             387.6,388.3,387.3,388.0,387.7,388.4,387.5,387.9,388.2,387.4,
             388.1,387.6,388.5,387.8,387.3,388.2,387.7,388.6,387.9,387.4,
             388.3,387.8,387.2,388.0,387.5,388.4,387.6,387.1,388.2,387.7,
             387.3,388.1,387.6,387.0,387.9,387.4]],
  [2009.245, [382.9,383.8,383.1,382.4,383.4,384.1,382.8,383.3,384.0,383.2,
             382.9,383.7,384.5,383.0,383.6,384.3,383.4,384.9,383.7,384.2,
             383.5,385.0,384.4,383.9,384.7,385.3,384.0,384.6,385.4,384.3,
             384.9,385.7,384.5,385.3,384.6,385.8,385.0,384.4,385.4,386.1,
             384.8,385.5,386.3,385.1,385.9,384.7,385.6,386.4,385.3,385.9,
             384.9,386.2,385.5,384.7,385.8,386.4,385.1,385.6,386.0,385.3,
             384.8,385.9,385.2,386.3,385.6,384.9,385.5,386.1,385.3,384.7,
             385.8,385.2,384.4,385.6,385.1,384.6,385.4,384.8,385.7,384.5,
             385.2,384.9,384.2,385.5,384.8,385.7,384.3,385.0,385.6,384.5,
             385.1,384.3,385.4,384.7,385.8,384.9,384.4,385.3,384.6,385.6,
             384.8,385.4,384.5,385.9,385.1,384.6,385.8,385.4,386.3,385.0,
             385.9,386.5,385.5,386.1,386.9,385.8,386.6,387.3,386.2,386.8,
             387.5,386.4,387.2,386.7,387.8,386.9,387.4,386.3,387.7,387.1,
             386.7,387.9,387.3,386.8,387.6,388.1,387.0,387.4,388.3,386.9,
             387.8,387.2,388.4,387.5,386.9,388.0,387.6,388.5,387.3,387.9,
             388.3,387.4,388.7,387.8,387.1,388.2,387.6,388.6,387.5,388.0,
             388.8,387.7,387.2,388.4,387.9,388.3,387.4,388.7,388.0,387.6,
             388.5,387.9,387.3,388.1,388.6,387.5,387.0,388.2,387.8,388.4,
             387.2,387.8,388.3,387.5,386.9,387.7,388.2,387.3,387.8,386.8,
             388.0,387.4,387.9,387.2,387.6]]
];

// ---------------------------------------------------------------------------
// TCCON stations: points [t, ppm] or regular runs [t0, values] (null = no data)
const eureka = [[2010.556,380.4],[2010.564,382.2],[2010.575,381.0],[2010.592,381.8],[2010.61,382.6],[2010.633,383.2],[2010.645,382.0],[2010.652,381.4],[2010.665,382.8],[2010.68,383.2],[2010.69,382.6],[2010.70,384.6],[2010.71,385.0],[2010.719,385.6],[2010.728,386.1]];
const sodankyla = [[2010.19,390.0],[2010.21,389.4],[2010.23,390.4],[2010.25,390.9],[2010.27,390.5],[2010.29,389.3],[2010.31,390.2],[2010.33,389.5],[2010.35,390.6],[2010.37,391.0],[2010.39,390.9],[2010.41,390.3],[2010.43,389.5],[2010.45,388.8],[2010.47,388.0],[2010.49,387.1],[2010.51,386.1],[2010.53,385.1],[2010.55,384.1],[2010.57,383.1],[2010.59,382.1],[2010.61,381.0],[2010.63,381.2],[2010.65,381.5],[2010.67,382.0],[2010.69,382.5],[2010.71,383.0],[2010.73,383.7],[2010.75,384.6],[2010.77,385.6],[2010.79,386.9],[2010.81,388.0],
  [2011.11,392.0],[2011.13,391.4],[2011.14,391.0],[2011.15,392.5],[2011.17,391.8],[2011.19,392.3]];
const bialystok = [[2009.20,389.6],[2009.22,389.0],[2009.24,390.1],[2009.26,389.3],[2009.28,388.7],[2009.30,389.5],[2009.33,389.8],[2009.35,386.8],[2009.37,385.4],[2009.39,384.2],[2009.41,383.6],
  [2009.53,379.6],[2009.55,378.8],[2009.57,379.3],[2009.60,380.4],[2009.66,382.4],[2009.70,383.3],[2009.73,384.6],[2009.78,385.9],[2009.83,387.3],
  [2009.95,392.6],[2009.97,393.0],[2010.04,389.8],[2010.10,390.2],[2010.14,390.0],[2010.24,389.6],[2010.26,390.4],[2010.30,389.8],[2010.36,389.2],[2010.40,388.2],
  [2010.47,385.8],[2010.50,384.3],[2010.52,383.5],[2010.55,383.0],[2010.58,382.8],[2010.62,383.4],[2010.72,386.3],[2010.75,386.8],
  [2010.93,393.4],[2010.95,394.2],[2010.97,393.6],[2011.12,393.0],[2011.14,394.0],[2011.16,393.5],[2011.18,392.8],[2011.19,394.6]];
const orleans = [[2009.66,383.6],[2009.68,384.2],[2009.71,385.4],[2009.74,384.0],[2009.76,385.4],[2010.06,392.6],[2010.20,392.0],[2010.40,389.0],[2010.43,388.2],[2010.57,383.0],[2010.59,381.9],[2010.62,381.6]];
const garmischRun = [2009.22, [
  391.2,389.6,390.4,388.8,389.9,388.0,388.6,386.8,387.3,385.6,
  386.2,384.4,385.0,383.1,383.6,381.7,382.3,380.6,381.4,382.6,
  381.2,383.4,382.1,384.4,383.0,385.2,384.0,386.0,384.6,386.5,
  385.4,387.3,386.4,388.4,387.6,389.7,389.0,391.0,390.3,392.2,
  390.2,393.2,390.4,393.6,390.6,393.8,390.3,393.4,390.1,393.0,
  389.8,392.9,389.6,392.5,389.3,391.9,388.7,391.2,388.4,390.4,
  388.2,389.3,387.1,388.0,385.8,386.7,384.6,385.4,383.8,384.9,
  383.9,385.6,384.7,386.4,385.5,387.2,386.3,387.9,387.0,388.5,
  387.6,389.1,388.4,390.0,389.3,396.2,390.4,391.6,390.9,392.3,
  391.4,393.0,392.1,393.6,392.6,394.0,392.9,393.7,392.8]];
const parkFalls = [[2009.20,391.2],[2009.22,392.0],[2009.24,391.4],[2009.26,390.6],[2009.47,383.0],[2009.50,381.0],[2009.55,378.2],[2009.57,376.8],[2009.59,378.6],[2009.65,383.8],[2009.70,383.0],[2009.80,386.8],[2009.84,386.0],
  [2010.52,385.5],[2010.54,383.2],[2010.56,383.0],[2010.70,385.2],[2010.76,387.0],[2010.84,387.6],[2010.88,388.4],[2011.06,391.5],[2011.10,392.4],[2011.16,391.0],[2011.19,392.0]];
const lamontRun = [2009.20, [
  390.5,389.2,390.2,388.8,389.6,388.3,389.0,387.6,388.4,386.9,
  387.6,386.2,386.8,385.4,385.9,384.5,384.9,383.3,383.6,382.0,
  382.5,381.0,381.9,382.6,383.4,382.8,384.2,383.6,385.1,384.7,
  386.0,385.5,387.0,386.3,387.8,387.2,388.6,388.1,389.3,388.9,
  390.0,389.5,390.7,390.3,391.4,391.0,392.2,391.7,392.8,392.3,
  393.3,392.6,393.5,392.9,393.7,392.8,393.3,392.2,392.6,391.4,
  391.7,390.2,389.9,388.3,387.8,386.6,386.1,385.4,385.9,385.2,
  386.3,385.9,387.2,386.8,388.1,387.6,388.9,388.3,389.8,389.1,
  390.5,389.7,391.2,390.2,391.6,390.8,392.2,391.3,392.7,391.8,
  393.2,392.2,393.6,392.6,394.0,392.9,394.3,393.2,394.5,393.4]];
const tsukubaRun = [2009.20, [
  390.4,389.0,391.0,389.6,390.6,389.2,390.0,388.7,null,null,
  384.7,null,null,null,null,null,null,383.2,381.8,388.8,
  380.8,379.8,381.6,382.5,383.6,384.2,385.0,385.8,386.4,387.0,
  387.4,388.0,387.6,388.5,389.0,388.6,389.4,388.9,384.1,389.8,
  390.4,389.9,390.8,391.3,390.7,391.6,391.2,392.0,391.5,392.3,
  391.8,392.5,391.6]];
const darwin = [[2009.20,385.4],[2009.21,384.6],[2009.22,385.8],[2009.23,384.9],[2009.24,385.3],[2009.25,386.2],[2009.26,385.0],[2009.27,386.4],[2009.28,385.6],[2009.30,384.0],[2009.31,383.6],
  [2009.34,385.8],[2009.36,385.6],[2009.38,386.0],[2009.40,386.2],[2009.42,385.9],[2009.44,386.4],[2009.46,386.1],[2009.48,386.3],[2009.50,386.0],[2009.52,386.5],[2009.54,386.2],[2009.56,386.4],[2009.58,386.1],[2009.60,386.5],[2009.62,386.3],[2009.64,386.6],[2009.66,386.2],[2009.68,386.4],[2009.70,386.0],[2009.72,386.3],
  [2009.74,385.6],[2009.76,386.2],[2009.78,385.8],[2009.80,386.8],[2009.82,386.4],[2009.84,387.2],[2009.86,386.7],[2009.88,387.4],[2009.90,386.9],[2009.92,387.8],[2009.94,387.2],[2009.96,387.6],[2009.98,386.8],[2010.00,387.3],[2010.02,386.9],
  [2010.64,387.2],[2010.66,387.8],[2010.68,387.0],[2010.70,388.2],[2010.72,387.5],[2010.74,388.0],[2010.76,387.2],[2010.78,388.4],[2010.80,387.6],[2010.82,388.0],
  [2010.86,388.4],[2010.88,388.9],[2010.90,388.2],[2010.92,388.7],[2010.98,388.4],[2011.00,388.8],[2011.02,388.2],
  [2011.06,387.8],[2011.08,388.6],[2011.10,389.2],[2011.12,388.5],[2011.14,387.7],[2011.17,388.3],[2011.19,388.6]];
const wollongongRun = [2009.33, [
  383.9,384.4,383.6,384.2,383.0,382.2,381.8,383.4,382.6,384.0,
  383.2,384.6,383.8,385.2,384.3,385.6,384.8,386.4,385.5,386.9,
  385.7,386.8,386.0,387.1,385.8,386.7,385.5,386.9,385.4,386.5,
  385.0,385.9,384.9,385.8,385.2,386.0,384.8,385.7,385.3,386.1,
  384.9,385.8,385.1,385.6,384.7,385.4,384.6,385.5,384.9,385.3,
  384.8,385.9,385.2,386.3,385.3,386.1,385.5,386.4,385.4,386.2,
  385.7,386.5,385.6,386.6,385.9,386.8,386.1,387.2,386.4,387.8,
  386.5,387.9,386.8,387.6,386.4,387.8,386.9,387.5,386.6,387.9,
  386.8,387.6,386.5,387.8,386.9,387.4,386.6,387.9,387.0,387.6,
  386.4,387.5,386.0,385.8]];
const lauder = [[2009.20,383.4],[2009.21,382.8],[2009.22,383.8],[2009.23,383.0],[2009.24,383.6],[2009.25,382.6],[2009.27,383.2],[2009.29,383.9],[2009.31,383.4],[2009.33,384.0],[2009.36,384.3],[2009.38,383.5],[2009.40,384.4]];

// ---------------------------------------------------------------------------
// Legend text
const legendGroups = [
  [["GOSAT 75\u201385N", "gosat"], ["Eureka", "Eureka"]],
  [["GOSAT 60\u201370N", "gosat"], ["Sodankyla", "Sodankyla"]],
  [["GOSAT 45\u201355N", "gosat"], ["Bialystok", "Bialystok"], ["Orleans", "Orleans"], ["Garmisch", "Garmisch"], ["Park Falls", "Park Falls"],
   ["GOSAT 30\u201340N", "gosat"], ["Lamont", "Lamont"], ["Tsukuba", "Tsukuba"]],
  [["GOSAT 20S\u20130N", "gosat"], ["Darwin", "Darwin"]],
  [["GOSAT <30S", "gosat"], ["Wollongong", "Wollongong"], ["Lauder", "Lauder"]]
];

// ---------------------------------------------------------------------------
// Helpers
function expandRun(run, step) {
  const [t0, vals] = run;
  const out = [];
  vals.forEach((v, i) => { if (v != null) out.push([t0 + i * step, v]); });
  return out;
}
function gosatSeries(pts, runs) {
  return pts.concat(...runs.map(r => expandRun(r, GOSAT_STEP)));
}

const siteColor = {
  "Eureka": "#ff1010", "Sodankyla": "#ff4a0c", "Bialystok": "#ff8012", "Orleans": "#b4e63c",
  "Garmisch": "#86f586", "Park Falls": "#42f8bf", "Lamont": "#08f2ff", "Tsukuba": "#03b6ff",
  "Darwin": "#0c52ff", "Wollongong": "#0808ff", "Lauder": "#0000a2"
};

const rows = [
  { gray: [gray7585L, gray7585R],
    gosat: [gosatSeries(gosat7585LPts, []), gosatSeries(gosat7585RPts, [])],
    sites: [["Eureka", eureka]] },
  { gray: [gray6070L, gray6070R],
    gosat: [gosatSeries(gosat6070LPts, gosat6070LRuns), gosatSeries(gosat6070RPts, gosat6070RRuns)],
    sites: [["Sodankyla", sodankyla]] },
  { gray: [gray4555L, gray4555R],
    gosat: [gosatSeries(gosat4555LPts, gosat4555LRuns), gosatSeries(gosat4555RPts, gosat4555RRuns)],
    sites: [["Bialystok", bialystok], ["Orleans", orleans], ["Garmisch", expandRun(garmischRun, SITE_STEP)], ["Park Falls", parkFalls]] },
  { gray: [gray3040L, gray3040R],
    gosat: [gosatSeries(gosat3040LPts, gosat3040LRuns), gosatSeries(gosat3040RPts, gosat3040RRuns)],
    sites: [["Lamont", expandRun(lamontRun, SITE_STEP)], ["Tsukuba", expandRun(tsukubaRun, SITE_STEP)]] },
  { gray: [gray200L, gray200R],
    gosat: [gosatSeries(gosat200LPts, gosat200LRuns), gosatSeries(gosat200RPts, gosat200RRuns)],
    sites: [["Darwin", darwin]] },
  { gray: [gray30SL, gray30SR],
    gosat: [gosatSeries(gosat30SLPts, gosat30SLRuns), gosatSeries(gosat30SRPts, gosat30SRRuns)],
    sites: [["Wollongong", expandRun(wollongongRun, SITE_STEP)], ["Lauder", lauder]] }
];

// ---------------------------------------------------------------------------
// Layout
const colLeft = [90, 449];
const panelW = 349;
const rowTop = [13, 149.5, 286.5, 423.5, 561.5, 698.5];
const panelH = 107;
const legendTop = [31, 168, 305, 578, 717];
const legendStep = 27.2;
const GRAY = "#c8c8c8";

const svg = d3.select("#chart");
const defs = svg.append("defs");

// stipple fills for the sounding clouds
const sparse = defs.append("pattern").attr("id", "graySparse")
  .attr("patternUnits", "userSpaceOnUse").attr("width", 10).attr("height", 10);
[[1.5, 1.5], [6.5, 2.8], [3.8, 6.2], [8.6, 8.0], [1.0, 8.6]].forEach(([cx, cy]) =>
  sparse.append("circle").attr("cx", cx).attr("cy", cy).attr("r", 1.15).attr("fill", GRAY));
const dense = defs.append("pattern").attr("id", "grayDense")
  .attr("patternUnits", "userSpaceOnUse").attr("width", 6).attr("height", 6);
[[1.5, 1.4], [4.6, 1.0], [3.0, 3.2], [1.2, 4.7], [4.8, 4.6]].forEach(([cx, cy]) =>
  dense.append("circle").attr("cx", cx).attr("cy", cy).attr("r", 1.5).attr("fill", GRAY));

rows.forEach((row, r) => {
  const top = rowTop[r];
  const y = d3.scaleLinear().domain(yDomains[r]).range([top + panelH, top]);
  const yTicks = r >= 4 ? yTicksSouth : yTicksNorth;

  [0, 1].forEach(c => {
    const left = colLeft[c];
    const x = d3.scaleLinear().domain(xDomain).range([left, left + panelW]);
    const g = svg.append("g");
    const clipId = `clip-${r}-${c}`;
    defs.append("clipPath").attr("id", clipId).append("rect")
      .attr("x", left).attr("y", top).attr("width", panelW).attr("height", panelH);

    // dotted grid
    const grid = g.append("g").attr("stroke", "#555").attr("stroke-width", 0.8).attr("stroke-dasharray", "1 2.6");
    xTicks.forEach(t => grid.append("line").attr("x1", x(t)).attr("x2", x(t)).attr("y1", top).attr("y2", top + panelH));
    yTicks.forEach(v => { if (v > yDomains[r][0] && v < yDomains[r][1])
      grid.append("line").attr("x1", left).attr("x2", left + panelW).attr("y1", y(v)).attr("y2", y(v)); });

    const plot = g.append("g").attr("clip-path", `url(#${clipId})`);

    // individual soundings
    const outer = d3.area().x(d => x(d[0])).y0(d => y(d[1])).y1(d => y(d[2])).curve(d3.curveMonotoneX);
    const core = d3.area().x(d => x(d[0])).y0(d => y(d[3])).y1(d => y(d[4])).curve(d3.curveMonotoneX);
    row.gray[c].forEach(cluster => {
      plot.append("path").datum(cluster).attr("d", outer).attr("fill", "url(#graySparse)");
      plot.append("path").datum(cluster).attr("d", core).attr("fill", "url(#grayDense)");
    });

    // TCCON stations
    row.sites.forEach(([name, data]) => {
      plot.append("g").selectAll("circle").data(data).join("circle")
        .attr("cx", d => x(d[0])).attr("cy", d => y(d[1])).attr("r", 5.6)
        .attr("fill", siteColor[name]);
    });

    // GOSAT daily means
    plot.append("g").selectAll("circle").data(row.gosat[c]).join("circle")
      .attr("cx", d => x(d[0])).attr("cy", d => y(d[1])).attr("r", 1.3).attr("fill", "#000");

    // frame
    g.append("rect").attr("x", left).attr("y", top).attr("width", panelW).attr("height", panelH)
      .attr("fill", "none").attr("stroke", "#000").attr("stroke-width", 1.1);

    // axes with inward ticks
    const styleAxis = sel => {
      sel.select(".domain").remove();
      sel.selectAll(".tick line").attr("stroke", "#000").attr("stroke-width", 1);
      sel.selectAll("text").style("font-size", "17.3px").style("font-weight", "bold")
        .style("font-family", "'Liberation Sans', Arial, sans-serif").attr("fill", "#000");
    };
    g.append("g").attr("transform", `translate(0,${top + panelH})`)
      .call(d3.axisBottom(x).tickValues(xTicks).tickSizeInner(-4).tickSizeOuter(0).tickPadding(9.5)
        .tickFormat((d, i) => r === rows.length - 1 ? xTickLabels[i] : ""))
      .call(styleAxis);
    g.append("g").attr("transform", `translate(0,${top})`)
      .call(d3.axisTop(x).tickValues(xTicks).tickSizeInner(-4).tickSizeOuter(0).tickFormat(""))
      .call(styleAxis);
    g.append("g").attr("transform", `translate(${left},0)`)
      .call(d3.axisLeft(y).tickValues(yTicks).tickSizeInner(-4).tickSizeOuter(0).tickPadding(7)
        .tickFormat(c === 0 ? d3.format("d") : ""))
      .call(styleAxis);
    g.append("g").attr("transform", `translate(${left + panelW},0)`)
      .call(d3.axisRight(y).tickValues(yTicks).tickSizeInner(-4).tickSizeOuter(0).tickFormat(""))
      .call(styleAxis);

    // y-axis title
    if (c === 0) {
      const cy = top + panelH / 2;
      const t = g.append("text").attr("transform", `translate(27,${cy}) rotate(-90)`)
        .attr("text-anchor", "middle").style("font-size", "17px");
      t.append("tspan").text("X");
      t.append("tspan").attr("dy", 17).style("font-size", "12.5px").text("CO");
      t.append("tspan").attr("dy", 2.5).style("font-size", "9px").text("2");
      t.append("tspan").attr("dy", -19.5).text("\u00a0(ppm)");
    }
  });
});

// legends
legendGroups.forEach((items, gi) => {
  items.forEach(([label, key], i) => {
    const cy = legendTop[gi] + i * legendStep;
    if (key === "gosat") {
      svg.append("circle").attr("cx", 817).attr("cy", cy).attr("r", 1.3).attr("fill", "#000");
    } else {
      svg.append("circle").attr("cx", 817).attr("cy", cy).attr("r", 4.8).attr("fill", siteColor[key]);
    }
    svg.append("text").attr("x", 846).attr("y", cy).attr("dy", "0.36em")
      .style("font-size", "18px").text(label);
  });
});
</script>
</body>
</html>
